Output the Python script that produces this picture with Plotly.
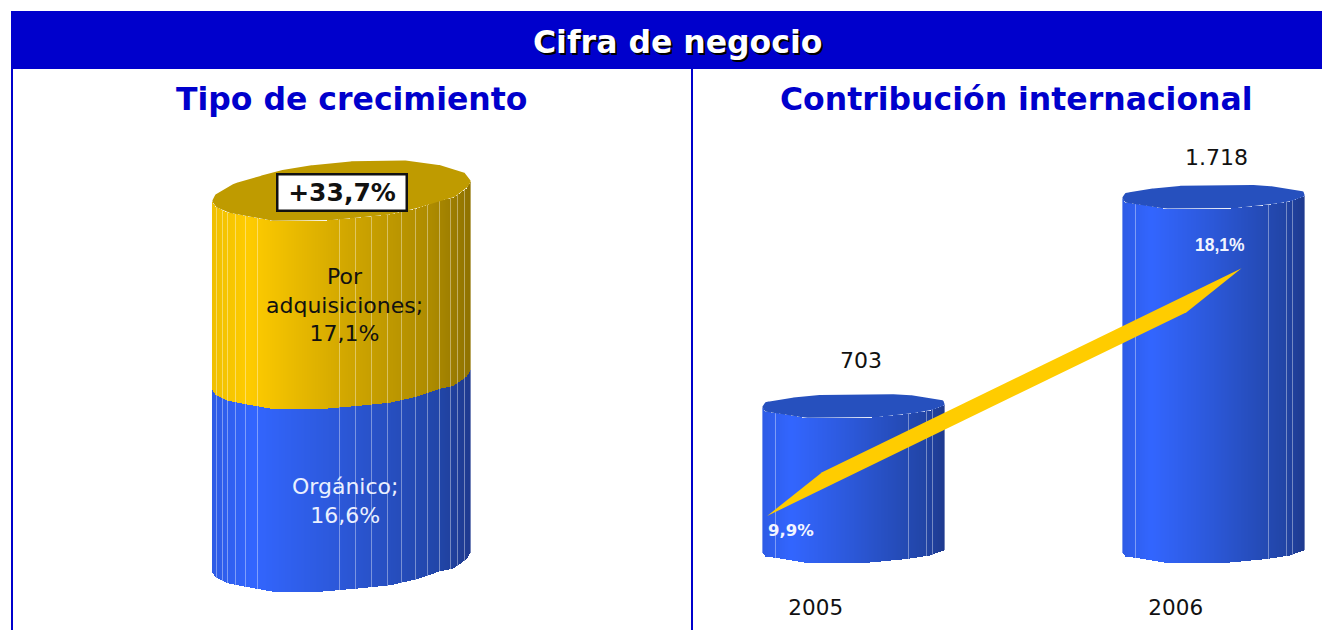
import numpy as np
import plotly.graph_objects as go

# ---- chart data ----
growth_types = ["Orgánico;<br>16,6%", "Por<br>adquisiciones;<br>17,1%"]
growth_values = [16.6, 17.1]
growth_total_label = "+33,7%"
years = ["2005", "2006"]
revenue_values = [703, 1718]
revenue_labels = ["703", "1.718"]
intl_share = [9.9, 18.1]
intl_share_labels = ["9,9%", "18,1%"]

# ---- look of the drum (fractions across width -> px offset of the edges) ----
W, H = 1322, 630
BLUE = "#0000CC"
L_FRONT_F = [0, .013, .058, .135, .231, .429, .559, .687, .79, .88, .931, .983, 1]
L_FRONT_D = [0, 5.3, 11, 15, 19.5, 19.5, 16.6, 13.3, 7.3, -.7, -3.4, -12.7, -20]
L_BACK_F = [0, .013, .045, .09, .135, .219, .302, .431, .572, .765, .893, .977, 1]
L_BACK_D = [0, -6.7, -11.7, -18.3, -21, -28, -33, -37.7, -40.7, -40.7, -35.7, -28.3, -20]
R_FRONT_F = [0, .018, .118, .227, .591, .791, .918, 1]
R_FRONT_D = [0, 4.5, 7, 10.5, 10.5, 7, 3.5, -2]
R_BACK_F = [0, .018, .118, .227, .373, .755, .864, .991, 1]
R_BACK_D = [0, -5, -8.3, -11, -13, -13, -11, -6.7, -1.7]
L_RIDGES = [.019, .039, .06, .092, .13, .177, .494, .555, .617, .677, .731, .785, .832, .88, .922, .949, .973, 1]
R_RIDGES = [0, .075, .8, .9, .93, 1]
BLUE_RAMP = [(0, "#2E5CE6"), (.16, "#3366FF"), (.5, "#2C58D8"), (.88, "#2246A8"), (1, "#1F3A8F")]
GOLD_RAMP = [(0, "#F0C000"), (.14, "#FFCC00"), (.5, "#D4A900"), (.85, "#AD8B00"), (1, "#8F7200")]


def rgb(h):
    return [int(h[i:i + 2], 16) for i in (1, 3, 5)]


def slat_colors(ramp, n, ridges):
    fr = (np.arange(n) + .5) / n
    stops = [s[0] for s in ramp]
    chans = np.array([rgb(s[1]) for s in ramp], dtype=float)
    c = np.stack([np.interp(fr, stops, chans[:, i]) for i in range(3)], axis=1)
    for r in ridges:
        k = min(int(r * n), n - 1)
        c[k] = c[k] * .62 + 255 * .38
    return ["rgb(%d,%d,%d)" % tuple(v) for v in c]


fig = go.Figure()

# pixel frames of the two panels
P_TOP, P_BOT = 69, 592
L_X0, L_X1, M_X0, M_X1 = 13, 691, 693, 1322
dom_y = [(H - P_BOT) / H, (H - P_TOP) / H]

# left panel: one drum, stacked shares
L_LEFT, L_WIDTH, L_ZERO, L_SCALE = 212, 259, 572, 11.0
lc = L_LEFT + L_WIDTH / 2
lx = (np.arange(L_WIDTH) + .5) / L_WIDTH - .5
lfr = lx + .5
l_front = -np.interp(lfr, L_FRONT_F, L_FRONT_D) / L_SCALE
l_back = -np.interp(lfr, L_BACK_F, L_BACK_D) / L_SCALE
cum = 0
for v, ramp in zip(growth_values, [BLUE_RAMP, GOLD_RAMP]):
    fig.add_bar(x=lx, y=[v] * L_WIDTH, base=l_front + cum, width=1 / L_WIDTH,
                marker=dict(color=slat_colors(ramp, L_WIDTH, L_RIDGES), line_width=0),
                xaxis="x", yaxis="y", hoverinfo="skip", showlegend=False)
    cum += v
fig.add_scatter(x=np.r_[lx, lx[::-1]], y=np.r_[l_front + cum, (l_back + cum)[::-1]],
                mode="lines", fill="toself", fillcolor="#BF9B00", line=dict(width=0),
                xaxis="x", yaxis="y", hoverinfo="skip", showlegend=False)

# right panel: two drums
R_C0, R_PITCH, R_WIDTH, R_ZERO, R_SCALE = 853.5, 360, 183, 552, .206
rfr = (np.arange(R_WIDTH) + .5) / R_WIDTH
r_front = -np.interp(rfr, R_FRONT_F, R_FRONT_D) / R_SCALE
r_back = -np.interp(rfr, R_BACK_F, R_BACK_D) / R_SCALE
r_off = (rfr - .5) * R_WIDTH / R_PITCH
cols = slat_colors(BLUE_RAMP, R_WIDTH, R_RIDGES)
for i, v in enumerate(revenue_values):
    x = i + r_off
    fig.add_bar(x=x, y=[v] * R_WIDTH, base=r_front, width=1 / R_PITCH,
                marker=dict(color=cols, line_width=0),
                xaxis="x2", yaxis="y2", hoverinfo="skip", showlegend=False)
    fig.add_scatter(x=np.r_[x, x[::-1]], y=np.r_[r_front + v, (r_back + v)[::-1]],
                    mode="lines", fill="toself", fillcolor="#2650BE", line=dict(width=0),
                    xaxis="x2", yaxis="y2", hoverinfo="skip", showlegend=False)

# ribbon for the share series, on its own hidden scale
PCT_SCALE, PCT_PX = 30.2, 516
p0, p1 = intl_share
x0, x1 = -.24, 1.078
f, half = .116, .5
rib_x = [x0, x0 + f * (x1 - x0), x1, x1 - f * (x1 - x0), x0]
rib_y = [p0, p0 + f * (p1 - p0) + half, p1, p1 - f * (p1 - p0) - half, p0]
fig.add_scatter(x=rib_x, y=rib_y, mode="lines", fill="toself", fillcolor="#FFCC00",
                line=dict(width=0, color="#FFCC00"), xaxis="x2", yaxis="y3",
                hoverinfo="skip", showlegend=False)

hidden = dict(visible=False, fixedrange=True)
fig.update_layout(
    width=W, height=H, margin=dict(l=0, r=0, t=0, b=0),
    paper_bgcolor="white", plot_bgcolor="rgba(0,0,0,0)", barmode="overlay", bargap=0,
    font=dict(family="DejaVu Sans", color="#111111"),
    xaxis=dict(hidden, domain=[L_X0 / W, L_X1 / W],
               range=[(L_X0 - lc) / L_WIDTH, (L_X1 - lc) / L_WIDTH]),
    yaxis=dict(hidden, domain=dom_y,
               range=[(L_ZERO - P_BOT) / L_SCALE, (L_ZERO - P_TOP) / L_SCALE]),
    xaxis2=dict(domain=[M_X0 / W, M_X1 / W], anchor="y2",
                range=[(M_X0 - R_C0) / R_PITCH, (M_X1 - R_C0) / R_PITCH],
                tickmode="array", tickvals=[i - .105 for i in range(len(years))], ticktext=years,
                showgrid=False, zeroline=False, showline=False, ticks="", fixedrange=True,
                tickfont=dict(size=21.5, color="#111111", family="DejaVu Sans")),
    yaxis2=dict(hidden, domain=dom_y, anchor="x2",
                range=[(R_ZERO - P_BOT) / R_SCALE, (R_ZERO - P_TOP) / R_SCALE]),
    yaxis3=dict(hidden, domain=dom_y, anchor="x2", overlaying="y2",
                range=[p0 - (P_BOT - PCT_PX) / PCT_SCALE, p0 + (PCT_PX - P_TOP) / PCT_SCALE]),
)


def paper_rect(x0, y0, x1, y1):
    fig.add_shape(type="rect", xref="paper", yref="paper", x0=x0 / W, x1=x1 / W,
                  y0=1 - y1 / H, y1=1 - y0 / H, fillcolor=BLUE, line_width=0, layer="below")


paper_rect(11, 11, W, 69)
paper_rect(11, 69, 13, H)
paper_rect(691, 69, 693, H)


def paper_text(txt, cx, cy, size, color, **kw):
    fig.add_annotation(text=txt, x=cx / W, y=1 - cy / H, xref="paper", yref="paper",
                       showarrow=False, xanchor="center", yanchor="middle",
                       font=dict(size=size, color=color, family="DejaVu Sans", weight="bold", **kw))


paper_text("Cifra de negocio", 677, 42, 31.5, "white", shadow="2px 2px 0 #000000")
paper_text("Tipo de crecimiento", 351, 99, 31.5, BLUE)
paper_text("Contribución internacional", 1016, 99, 31.5, BLUE)

# stack labels
cum = 0
for txt, v, col, shift in zip(growth_types, growth_values, ["#EAF0FF", "#111111"], [-20, -10]):
    fig.add_annotation(text=txt, x=.013, y=cum + v / 2, xref="x", yref="y", showarrow=False,
                       yshift=shift, font=dict(size=22, color=col))
    cum += v
fig.add_annotation(text="<b>%s</b>" % growth_total_label, x=0, y=cum, xref="x", yref="y",
                   showarrow=False, yshift=9, width=127, height=34, bgcolor="white",
                   bordercolor="#111111", borderwidth=2.5, borderpad=0,
                   font=dict(size=25, color="#111111"))

# revenue labels
for i, (t, v, dx, dy) in enumerate(zip(revenue_labels, revenue_values, [7, 2.5], [47, 41])):
    fig.add_annotation(text=t, x=i, y=v, xref="x2", yref="y2", showarrow=False, xshift=dx,
                       yshift=dy, font=dict(size=22, color="#111111"))

# share labels
for xv, t, v, dx, dy, fam, sz in zip([x0, x1], intl_share_labels, intl_share, [24, -22], [-14, 23],
                                     ["DejaVu Sans", "Liberation Sans"], [16.5, 17.5]):
    fig.add_annotation(text="<b>%s</b>" % t, x=xv, y=v, xref="x2", yref="y3", showarrow=False,
                       xshift=dx, yshift=dy, font=dict(size=sz, color="#F2F5FF", family=fam))

fig.write_html("out.html", config=dict(displayModeBar=False),
               post_script="document.body.style.margin='0';document.body.style.overflow='hidden';")
